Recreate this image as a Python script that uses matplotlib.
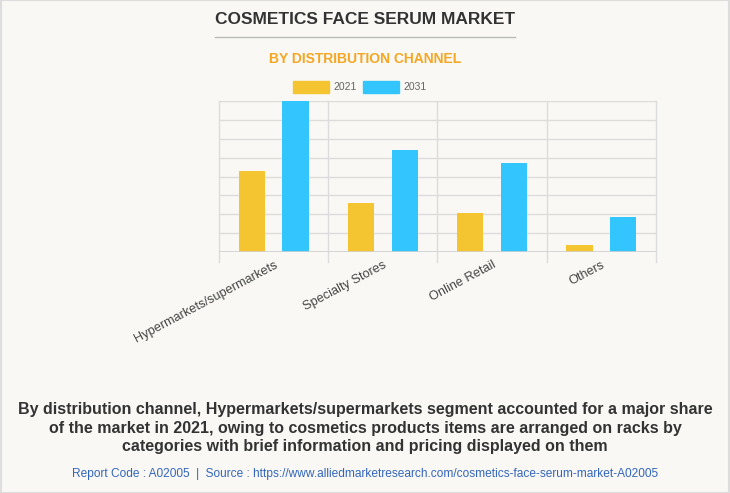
import numpy as np
import matplotlib.pyplot as plt
from matplotlib.patches import Rectangle
from matplotlib.lines import Line2D

channels = ["Hypermarkets/supermarkets", "Specialty Stores", "Online Retail", "Others"]
years = ["2021", "2031"]
val_2021 = [4.3, 2.6, 2.05, 0.38]
val_2031 = [8.0, 5.4, 4.7, 1.85]

bg = "#F9F8F4"
c21 = "#F4C531"
c31 = "#33C6FE"

fig = plt.figure(figsize=(7.3, 4.93), dpi=100, facecolor=bg)
fig.patches.append(Rectangle((0.001, 0.001), 0.998, 0.998, transform=fig.transFigure,
                             fill=False, edgecolor="#DDDDDD", lw=1.5))

ax = fig.add_axes([0.3, 0.4888, 0.5986, 0.3063], facecolor=bg)
x = np.arange(len(channels))
w = 0.24
ax.bar(x - 0.2, val_2021, w, color=c21, zorder=3)
ax.bar(x + 0.2, val_2031, w, color=c31, zorder=3)

ax.set_xlim(-0.5, len(channels) - 0.5)
ax.set_ylim(0, 8)
ax.set_yticks(np.arange(0, 9))
ax.set_yticklabels([])
ax.tick_params(axis="y", length=0)
ax.grid(axis="y", color="#DCDCDC", lw=1, zorder=0)
for b in np.arange(-0.5, len(channels)):
    ax.plot([b, b], [-0.55, 8], color="#DCDCDC", lw=1, clip_on=False, zorder=0)
for s in ax.spines.values():
    s.set_visible(False)
ax.axhline(0, color="#D0D0D0", lw=1.2, zorder=4)

ax.set_xticks(x)
ax.set_xticklabels(channels, rotation=28, ha="right", rotation_mode="anchor",
                   fontsize=9.2, color="#444444", family="Liberation Sans")
ax.tick_params(axis="x", length=0, pad=5)

fig.text(0.5, 1 - 20 / 493, "COSMETICS FACE SERUM MARKET", ha="center", va="center",
         fontsize=12.5, fontweight="bold", color="#333333", family="Liberation Sans")
fig.add_artist(Line2D([215 / 730, 515 / 730], [1 - 37 / 493, 1 - 37 / 493],
                      transform=fig.transFigure, color="#BBBBBB", lw=1))
fig.text(0.5, 1 - 59 / 493, "BY DISTRIBUTION CHANNEL", ha="center", va="center",
         fontsize=10, fontweight="bold", color="#F5A623", family="Liberation Sans")

# legend
ly = 1 - 87 / 493
for x0, col, lab in [(293, c21, years[0]), (363, c31, years[1])]:
    fig.patches.append(Rectangle((x0 / 730, ly - 6 / 493), 36 / 730, 12 / 493,
                                 transform=fig.transFigure, color=col))
    fig.text((x0 + 40) / 730, ly, lab, ha="left", va="center", fontsize=7.5,
             color="#666666", family="Liberation Sans")

caption = ("By distribution channel, Hypermarkets/supermarkets segment accounted for a major share\n"
           "of the market in 2021, owing to cosmetics products items are arranged on racks by\n"
           "categories with brief information and pricing displayed on them")
fig.text(0.5, 1 - 428 / 493, caption, ha="center", va="center", fontsize=11.5,
         fontweight="bold", color="#333333", family="Liberation Sans", linespacing=1.32)
fig.text(0.5, 1 - 474 / 493,
         "Report Code : A02005  |  Source : https://www.alliedmarketresearch.com/cosmetics-face-serum-market-A02005",
         ha="center", va="center", fontsize=8.6, color="#3366BB",
         family=["Liberation Sans Narrow", "Liberation Sans"])

fig.savefig("out.png", dpi=100, facecolor=bg)
